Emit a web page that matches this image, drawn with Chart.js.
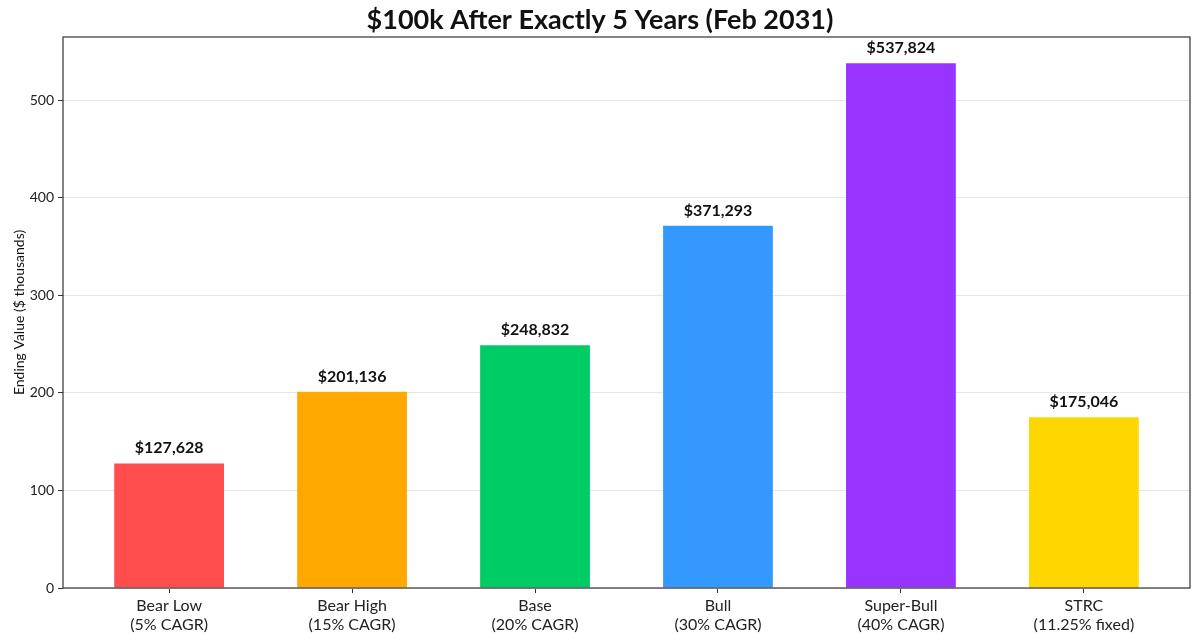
<!DOCTYPE html>
<html>
<head>
<meta charset="utf-8">
<script src="https://cdn.jsdelivr.net/npm/chart.js@4.4.1/dist/chart.umd.min.js"></script>
<style>
  html, body { margin: 0; padding: 0; background: #fff; }
  #wrap { width: 1200px; height: 643px; }
</style>
</head>
<body>
<div id="wrap"><canvas id="endingChart" width="1200" height="643"></canvas></div>
<script>
// =============== DATA ===============
const scenarioNames = ['Bear Low', 'Bear High', 'Base', 'Bull', 'Super-Bull', 'STRC'];
const scenarioRates = ['(5% CAGR)', '(15% CAGR)', '(20% CAGR)', '(30% CAGR)', '(40% CAGR)', '(11.25% fixed)'];
const endingValues = [127.628, 201.136, 248.832, 371.293, 537.824, 175.046]; // $ thousands
const valueLabels = ['$127,628', '$201,136', '$248,832', '$371,293', '$537,824', '$175,046'];
const barColors = ['#FF4C4C', '#FFA900', '#00CC66', '#3399FF', '#9933FF', '#FFD700'];
const yTicks = [0, 100, 200, 300, 400, 500];

const chartTitle = '$100k After Exactly 5 Years (Feb 2031)';
const yTitle = 'Ending Value ($ thousands)';
const fontFam = "Lato, 'Noto Sans', sans-serif";

// =============== PLUGIN: title, frame, value labels ===============
const decorPlugin = {
    id: 'decor',
    afterDraw(chart) {
        const ctx = chart.ctx;
        const area = chart.chartArea;
        ctx.save();

        // kotak sumbu
        ctx.strokeStyle = '#333';
        ctx.lineWidth = 1.2;
        ctx.strokeRect(area.left, area.top, area.right - area.left, area.bottom - area.top);

        // judul (di tengah gambar)
        ctx.fillStyle = '#111';
        ctx.font = "bold 27px " + fontFam;
        ctx.textAlign = 'center';
        ctx.textBaseline = 'alphabetic';
        ctx.fillText(chartTitle, chart.width / 2, 29);

        // label nilai di atas bar
        const meta = chart.getDatasetMeta(0);
        ctx.font = "bold 16px " + fontFam;
        meta.data.forEach((bar, i) => {
            ctx.fillText(valueLabels[i], bar.x, bar.y - 10);
        });

        // judul sumbu Y
        ctx.font = "14px " + fontFam;
        ctx.translate(19, (area.top + area.bottom) / 2);
        ctx.rotate(-Math.PI / 2);
        ctx.textBaseline = 'middle';
        ctx.fillText(yTitle, 0, 0);
        ctx.restore();
    }
};

// =============== CHART ===============
const ctx = document.getElementById('endingChart').getContext('2d');
new Chart(ctx, {
    type: 'bar',
    data: {
        datasets: [{
            data: endingValues.map((v, i) => ({ x: i, y: v })),
            backgroundColor: barColors,
            borderWidth: 0,
            barPercentage: 0.6,
            categoryPercentage: 1.0
        }]
    },
    options: {
        responsive: false,
        animation: false,
        events: [],
        layout: { padding: { top: 37, right: 10, left: 0, bottom: 0 } },
        plugins: {
            legend: { display: false },
            tooltip: { enabled: false }
        },
        scales: {
            x: {
                type: 'linear',
                offset: false,
                min: -0.58,
                max: 5.58,
                afterBuildTicks: (scale) => { scale.ticks = scenarioNames.map((n, i) => ({ value: i })); },
                afterFit: (scale) => { scale.height = 55; },
                grid: { offset: false, drawOnChartArea: false, drawTicks: true, tickLength: 5, tickColor: '#333' },
                border: { display: false },
                ticks: {
                    autoSkip: false,
                    maxRotation: 0,
                    padding: 3,
                    color: '#222',
                    font: { family: fontFam, size: 16, lineHeight: 1.2 },
                    callback: (v) => [scenarioNames[v], scenarioRates[v]]
                }
            },
            y: {
                min: 0,
                max: 564.7,
                afterBuildTicks: (scale) => { scale.ticks = yTicks.map(v => ({ value: v })); },
                afterFit: (scale) => { scale.width = 63; },
                grid: { color: '#e6e6e6', drawTicks: true, tickLength: 5, tickColor: '#333' },
                border: { display: false },
                ticks: {
                    padding: 4,
                    color: '#222',
                    font: { family: fontFam, size: 14 }
                }
            }
        }
    },
    plugins: [decorPlugin]
});
</script>
</body>
</html>
